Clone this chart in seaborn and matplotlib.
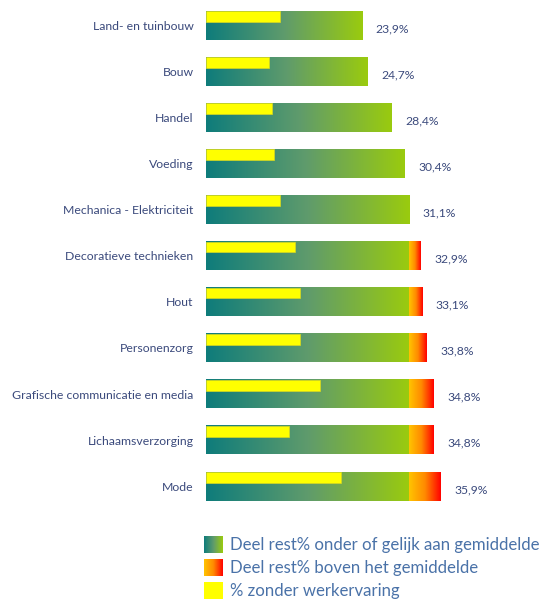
"""
Rest% per studiegebied: horizontal gradient bars with the share without work experience.
"""

import numpy as np
import pandas as pd
import seaborn as sns
import matplotlib.pyplot as plt
from matplotlib.colors import LinearSegmentedColormap

categories = [
    "Land- en tuinbouw",
    "Bouw",
    "Handel",
    "Voeding",
    "Mechanica - Elektriciteit",
    "Decoratieve technieken",
    "Hout",
    "Personenzorg",
    "Grafische communicatie en media",
    "Lichaamsverzorging",
    "Mode",
]
rest_pct = [23.9, 24.7, 28.4, 30.4, 31.1, 32.9, 33.1, 33.8, 34.8, 34.8, 35.9]
no_experience_pct = [11.3, 9.7, 10.1, 10.4, 11.4, 13.7, 14.4, 14.4, 17.5, 12.7, 20.6]
value_labels = ["23,9%", "24,7%", "28,4%", "30,4%", "31,1%", "32,9%",
                "33,1%", "33,8%", "34,8%", "34,8%", "35,9%"]
average_pct = 31.1
legend_labels = [
    "Deel rest% onder of gelijk aan gemiddelde",
    "Deel rest% boven het gemiddelde",
    "% zonder werkervaring",
]

GREEN_CMAP = LinearSegmentedColormap.from_list("teal_green", ["#0e7c7b", "#5f9b6c", "#9acb0e"])
RED_CMAP = LinearSegmentedColormap.from_list("orange_red", ["#ffc400", "#ff8a00", "#ff0000"])
YELLOW = "#ffff00"
LABEL_COLOR = "#3b4a7c"
LEGEND_COLOR = "#4a72a8"

sns.set_theme(style="white")
plt.rcParams["font.family"] = ["Lato", "DejaVu Sans"]

df = pd.DataFrame({
    "category": categories,
    "rest": rest_pct,
    "no_experience": no_experience_pct,
})

W, H = 547, 601
fig = plt.figure(figsize=(W / 100, H / 100), dpi=100)
ax = fig.add_axes([206 / W, 1 - 509.3 / H, 326.5 / W, 507 / H])

bar_width = 0.62
sns.barplot(data=df, x="rest", y="category", orient="h", width=bar_width,
            color="white", ax=ax)
rest_patches = list(ax.patches)

gradient = np.linspace(0, 1, 256).reshape(1, -1)
for patch, total in zip(rest_patches, df["rest"]):
    y0 = patch.get_y()
    h = patch.get_height()
    green_end = min(total, average_pct)
    ax.imshow(gradient, cmap=GREEN_CMAP, extent=[0, green_end, y0 + h, y0],
              aspect="auto", interpolation="bilinear", zorder=2)
    if total > average_pct:
        ax.imshow(gradient, cmap=RED_CMAP, extent=[average_pct, total, y0 + h, y0],
                  aspect="auto", interpolation="bilinear", zorder=2)
    patch.set_visible(False)

sns.barplot(data=df, x="no_experience", y="category", orient="h", width=bar_width,
            color=YELLOW, saturation=1, edgecolor="#d8d820", linewidth=0.5,
            zorder=3, ax=ax)
for patch in ax.patches[len(rest_patches):]:
    patch.set_height(0.235)

for i, (total, label) in enumerate(zip(df["rest"], value_labels)):
    ax.text(total + 2.1, i + 0.07, label, va="center", ha="left",
            fontsize=8.7, color=LABEL_COLOR)

ax.set_xlim(0, 50)
ax.set_ylim(len(categories) - 0.5, -0.5)
ax.set_xlabel("")
ax.set_ylabel("")
ax.set_xticks([])
ax.tick_params(axis="y", left=False, length=0, pad=9, labelsize=8.8,
               labelcolor=LABEL_COLOR)
for side in ["top", "right", "bottom", "left"]:
    ax.spines[side].set_visible(False)

# legend drawn in pixel coordinates below the bars
leg_ax = fig.add_axes([0, 0, 1, 75 / H])
leg_ax.set_xlim(0, W)
leg_ax.set_ylim(H, H - 75)
leg_ax.axis("off")
swatches = [GREEN_CMAP, RED_CMAP, None]
for k, (label, cmap) in enumerate(zip(legend_labels, swatches)):
    yc = 544.3 + k * 23
    if cmap is None:
        leg_ax.fill_between([204, 222.7], yc - 8.5, yc + 8.5, color=YELLOW, lw=0)
    else:
        leg_ax.imshow(gradient, cmap=cmap, extent=[204, 222.7, yc + 8.5, yc - 8.5],
                      aspect="auto", interpolation="bilinear")
    leg_ax.text(230, yc + 0.5, label, va="center", ha="left",
                fontsize=12.1, color=LEGEND_COLOR)
leg_ax.set_xlim(0, W)
leg_ax.set_ylim(H, H - 75)

fig.savefig("out.png", dpi=100)
plt.close(fig)
